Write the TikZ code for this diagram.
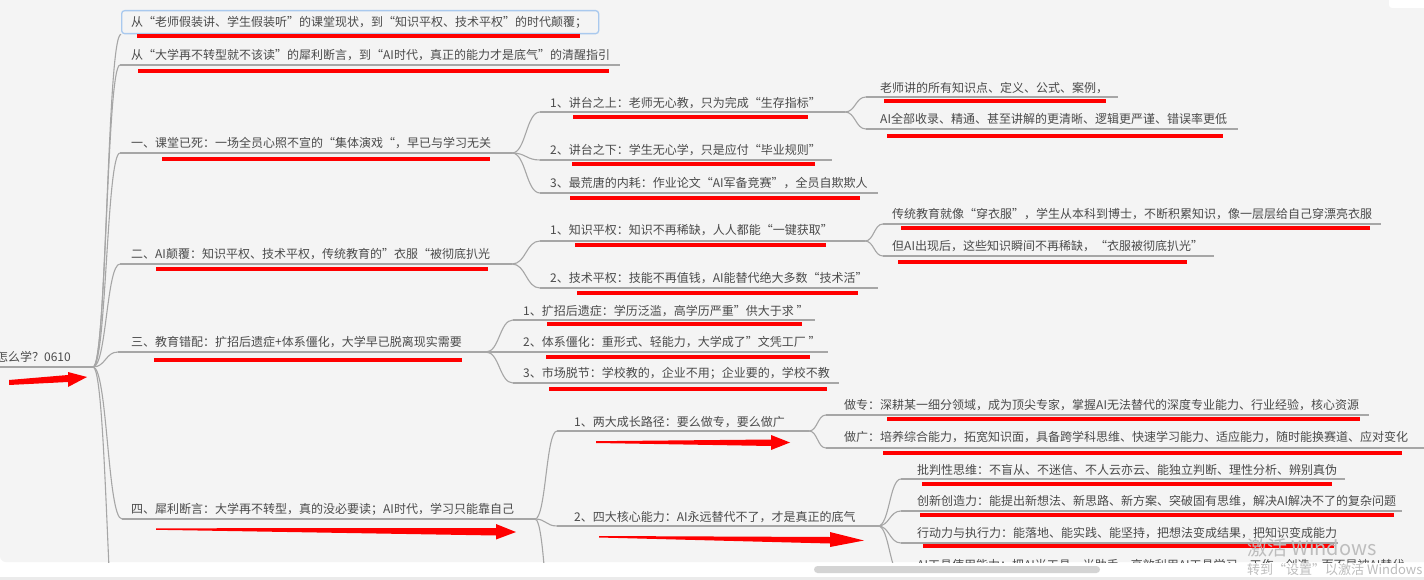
\documentclass[tikz,border=0pt]{standalone}
\usepackage{fontspec}
\setmainfont{Noto Sans CJK SC}
\usetikzlibrary{calc}
\definecolor{bg}{HTML}{F4F4F4}
\definecolor{txt}{HTML}{4A4A4A}
\definecolor{lin}{HTML}{A6A6A6}
\definecolor{selb}{HTML}{A9C9EE}
\definecolor{wm}{HTML}{BDBDBD}
\definecolor{redmk}{HTML}{FF0000}
\definecolor{scrollc}{HTML}{D4D4D4}
\definecolor{bandc}{HTML}{EBEBEB}
\newcommand\mmconn[2]{\draw[conn] let \p1=(#1), \p2=(#2), \n1={0.5*(\x2-\x1)} in (\p1) .. controls (\x1+\n1,\y1) and (\x2-\n1,\y2) .. (\p2);}
\newcommand\mmnode[7]{%
  \coordinate (#1-s) at (#2,#4);
  \coordinate (#1-e) at (#3,#4);
  \draw[conn] (#1-s) -- (#1-e);
  \node[lbl] (#1) at (#5,#6) {#7};}
\newcommand\redline[3]{\draw[redstroke] (#1,#3) -- (#2,#3);}
\begin{document}
\begin{tikzpicture}[x=1pt,y=-1pt,
  conn/.style={draw=lin,line width=1.1pt},
  lbl/.style={anchor=west,inner sep=0pt,text=txt,font=\fontsize{12}{12}\selectfont},
  redstroke/.style={draw=redmk,line width=4.5pt},
  wmtext/.style={anchor=west,inner sep=0pt,text=wm}]
\useasboundingbox (0,0) rectangle (1424,580);
\fill[white] (0,0) rectangle (1424,580);
\fill[bg,rounded corners=6pt] (0,-10) rectangle (1434,562);
\fill[bandc] (0,577) rectangle (1424,580);
\begin{scope}
\clip (0,0) rectangle (1424,562);
% root
\coordinate (root-s) at (0,367);
\coordinate (root-e) at (93,367);
\draw[conn] (root-s) -- (root-e);
\node[lbl,anchor=east] (root) at (71,357) {怎么学？0610};
% level 1
\node[draw=selb,line width=1.3pt,rounded corners=3pt,minimum width=477pt,minimum height=23pt,anchor=north west,inner sep=0pt] (a0box) at (121,10) {};
\node[lbl] (a0) at (131,22) {从“老师假装讲、学生假装听”的课堂现状，到“知识平权、技术平权”的时代颠覆；};
\mmnode{a1}{120}{620}{65}{131}{55}{从“大学再不转型就不该读”的犀利断言，到“AI时代，真正的能力才是底气”的清醒指引}
\mmnode{a2}{120}{512}{153}{131}{143}{一、课堂已死：一场全员心照不宣的“集体演戏“，早已与学习无关}
\mmnode{a3}{120}{512}{264}{131}{254}{二、AI颠覆：知识平权、技术平权，传统教育的”衣服“被彻底扒光}
\mmnode{a4}{118}{486}{352}{131}{342}{三、教育错配：扩招后遗症+体系僵化，大学早已脱离现实需要}
\mmnode{a5}{122}{535}{519}{131}{509}{四、犀利断言：大学再不转型，真的没必要读；AI时代，学习只能靠自己}
\coordinate (a6-s) at (122,700);
\mmconn{root-e}{a0box.south west}
\mmconn{root-e}{a1-s}
\mmconn{root-e}{a2-s}
\mmconn{root-e}{a3-s}
\mmconn{root-e}{a4-s}
\mmconn{root-e}{a5-s}
\mmconn{root-e}{a6-s}
% children of 一
\mmnode{b1}{540}{845}{112}{550}{103}{1、讲台之上：老师无心教，只为完成“生存指标”}
\mmnode{b2}{540}{832}{160}{550}{150}{2、讲台之下：学生无心学，只是应付“毕业规则”}
\mmnode{b3}{540}{878}{193}{550}{183}{3、最荒唐的内耗：作业论文“AI军备竞赛”，全员自欺欺人}
\mmconn{a2-e}{b1-s}
\mmconn{a2-e}{b2-s}
\mmconn{a2-e}{b3-s}
\mmnode{b1a}{866}{1118}{97}{880}{88}{老师讲的所有知识点、定义、公式、案例，}
\mmnode{b1b}{866}{1238}{129}{880}{119}{AI全部收录、精通、甚至讲解的更清晰、逻辑更严谨、错误率更低}
\mmconn{b1-e}{b1a-s}
\mmconn{b1-e}{b1b-s}
% children of 二
\mmnode{c1}{540}{865}{241}{550}{230}{1、知识平权：知识不再稀缺，人人都能“一键获取”}
\mmnode{c2}{540}{878}{288}{550}{278}{2、技术平权：技能不再值钱，AI能替代绝大多数“技术活”}
\mmconn{a3-e}{c1-s}
\mmconn{a3-e}{c2-s}
\mmnode{c1a}{883}{1381}{224}{892}{214}{传统教育就像“穿衣服”，学生从本科到博士，不断积累知识，像一层层给自己穿漂亮衣服}
\mmnode{c1b}{883}{1214}{256}{892}{246}{但AI出现后，这些知识瞬间不再稀缺，“衣服被彻底扒光”}
\mmconn{c1-e}{c1a-s}
\mmconn{c1-e}{c1b-s}
% children of 三
\mmnode{d1}{513}{815}{320}{523}{311}{1、扩招后遗症：学历泛滥，高学历严重”供大于求 ”}
\mmnode{d2}{513}{828}{352}{523}{342}{2、体系僵化：重形式、轻能力，大学成了”文凭工厂 ”}
\mmnode{d3}{513}{839}{383}{523}{373}{3、市场脱节：学校教的，企业不用；企业要的，学校不教}
\mmconn{a4-e}{d1-s}
\mmconn{a4-e}{d2-s}
\mmconn{a4-e}{d3-s}
% children of 四
\mmnode{e1}{557}{809}{431}{574}{422}{1、两大成长路径：要么做专，要么做广}
\mmnode{e2}{557}{878}{526}{574}{517}{2、四大核心能力：AI永远替代不了，才是真正的底气}
\coordinate (e3-s) at (557,660);
\mmconn{a5-e}{e1-s}
\mmconn{a5-e}{e2-s}
\mmconn{a5-e}{e3-s}
\mmnode{e1a}{826}{1369}{415}{844}{405}{做专：深耕某一细分领域，成为顶尖专家，掌握AI无法替代的深度专业能力、行业经验，核心资源}
\mmnode{e1b}{826}{1430}{448}{844}{437}{做广：培养综合能力，拓宽知识面，具备跨学科思维、快速学习能力、适应能力，随时能换赛道、应对变化}
\mmconn{e1-e}{e1a-s}
\mmconn{e1-e}{e1b-s}
\mmnode{e2a}{901}{1345}{479}{917}{470}{批判性思维：不盲从、不迷信、不人云亦云、能独立判断、理性分析、辨别真伪}
\mmnode{e2b}{901}{1402}{511}{917}{501}{创新创造力：能提出新想法、新思路、新方案、突破固有思维，解决AI解决不了的复杂问题}
\mmnode{e2c}{901}{1338}{543}{917}{533}{行动力与执行力：能落地、能实践、能坚持，把想法变成结果，把知识变成能力}
\mmnode{e2d}{901}{1430}{575}{917}{565.5}{AI工具使用能力：把AI当工具、当助手，高效利用AI工具学习、工作、创造，而不是被AI替代}
\mmconn{e2-e}{e2a-s}
\mmconn{e2-e}{e2b-s}
\mmconn{e2-e}{e2c-s}
\mmconn{e2-e}{e2d-s}
% red annotation strokes
\redline{137}{580}{36}
\redline{138}{609}{71}
\redline{162}{490}{159}
\redline{156}{488}{269}
\redline{154}{462}{360}
\redline{573}{808}{117}
\redline{572}{815}{164}
\redline{570}{860}{198}
\redline{884}{1106}{101}
\redline{887}{1223}{136}
\redline{575}{826}{245}
\redline{577}{858}{293}
\redline{901}{1370}{228}
\redline{898}{1187}{262}
\redline{547}{802}{324}
\redline{546}{810}{357}
\redline{549}{827}{389}
\redline{887}{1360}{419}
\redline{883}{1402}{453}
\redline{922}{1332}{484}
\redline{920}{1394}{515}
\redline{923}{1334}{546}
% red arrows
\fill[redmk] (9,380) -- (68,375) -- (68,372) -- (87,377) -- (68,387) -- (68,382) -- (9,385) -- cycle;
\fill[redmk] (156,528.3) -- (496,528) -- (496,524) -- (516,532) -- (496,539.5) -- (496,535.5) -- (156,529.8) -- cycle;
\fill[redmk] (596,441.2) -- (771,439.5) -- (771,435) -- (790,442.5) -- (771,450) -- (771,446) -- (596,443) -- cycle;
\fill[redmk] (599,536) -- (830,537) -- (830,532) -- (864,540.5) -- (830,547) -- (830,543.5) -- (599,537.5) -- cycle;
\end{scope}
% window chrome
\fill[white,rounded corners=3pt] (1389,-6) rectangle (1430,8);
\fill[scrollc,rounded corners=3.5pt] (814,566) rectangle (1100,573);
\node[wmtext,font=\fontsize{20}{20}\selectfont] (wm1) at (1247,548) {激活 Windows};
\node[wmtext,font=\fontsize{13}{13}\selectfont] (wm2) at (1247,570) {转到“设置”以激活 Windows};
\end{tikzpicture}
\end{document}
